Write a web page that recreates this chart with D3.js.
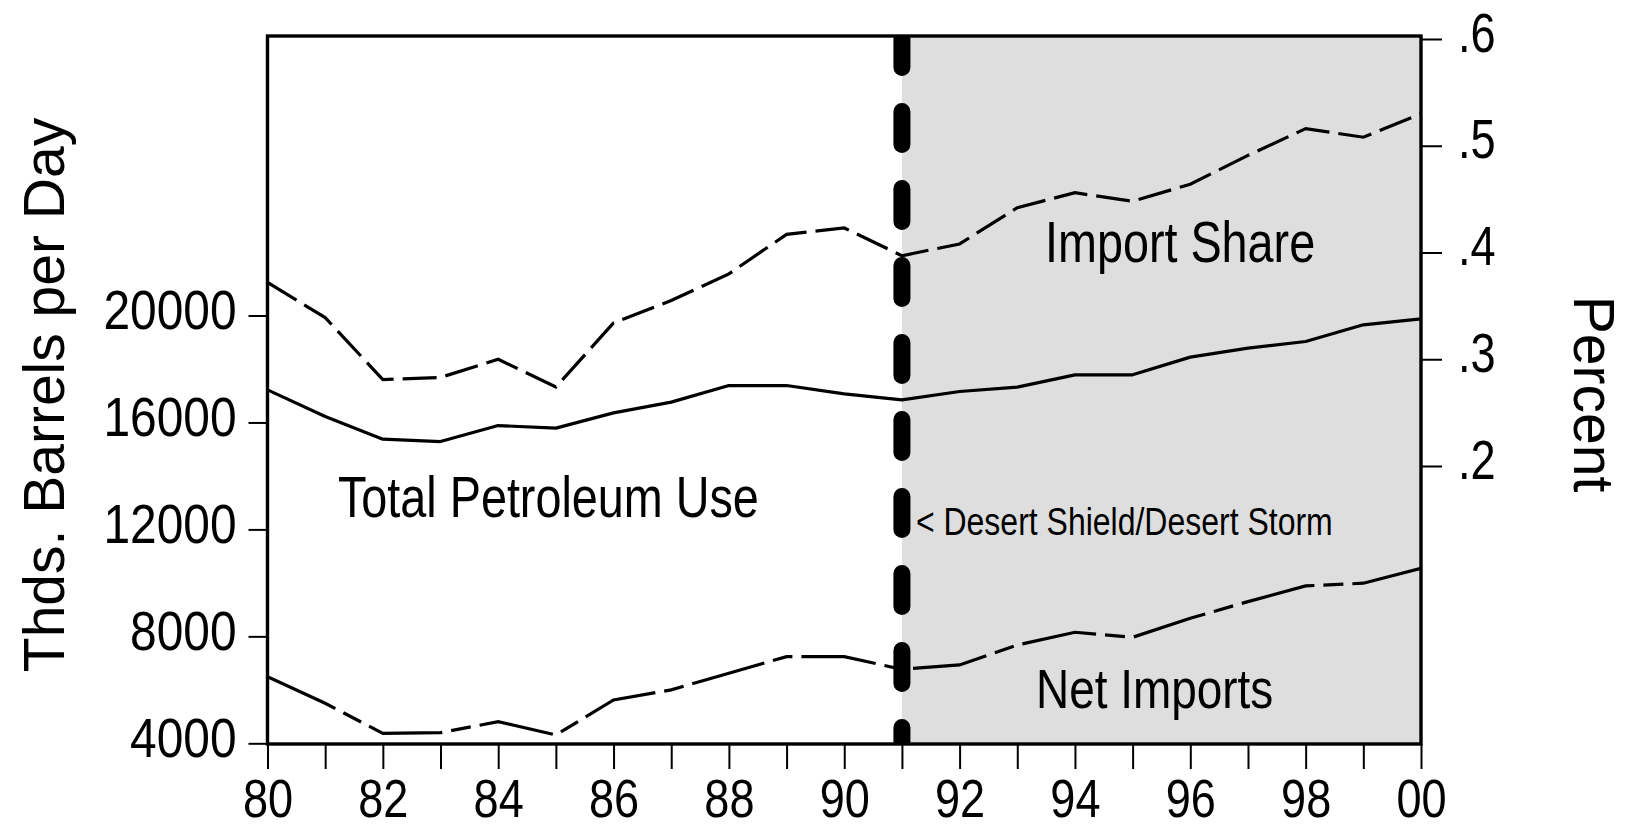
<!DOCTYPE html>
<html>
<head>
<meta charset="utf-8">
<title>Petroleum Use, Net Imports and Import Share</title>
<script src="https://cdn.jsdelivr.net/npm/d3@7/dist/d3.min.js"></script>
<style>
body { margin: 0; background: #fff; }
.narrow { font-family: "Liberation Sans Narrow", "Arial Narrow", "Liberation Sans", sans-serif; }
.title { font-family: "Liberation Sans", Arial, sans-serif; font-size: 57px; fill: #000; }
</style>
</head>
<body>
<div id="chart"></div>
<script>

// years on the x axis
var years = [1980, 1981, 1982, 1983, 1984, 1985, 1986, 1987, 1988, 1989, 1990,
             1991, 1992, 1993, 1994, 1995, 1996, 1997, 1998, 1999, 2000];

// thousands of barrels per day (left axis)
var totalUse   = [17220, 16220, 15375, 15285, 15884, 15787, 16359, 16760, 17381, 17381, 17070,
                  16846, 17157, 17320, 17781, 17781, 18443, 18780, 19027, 19652, 19877];
var netImports = [6492, 5497, 4374, 4397, 4808, 4311, 5620, 6000, 6619, 7241, 7241,
                  6769, 6930, 7678, 8153, 7966, 8677, 9299, 9886, 9987, 10548];

// share of use that is imported (right axis)
var importShare = [0.372, 0.339, 0.281, 0.283, 0.300, 0.274, 0.334, 0.355, 0.380, 0.417, 0.423,
                   0.397, 0.408, 0.442, 0.456, 0.448, 0.464, 0.491, 0.516, 0.508, 0.530];

var leftTicks  = [4000, 8000, 12000, 16000, 20000];
var rightTicks = [0.2, 0.3, 0.4, 0.5, 0.6];
var eventYear  = 1991;   // Desert Shield / Desert Storm

var width = 1629, height = 831;
var plotTop = 36, plotBottom = 744;

var x = d3.scaleLinear().domain([1980, 2000]).range([267.5, 1421]);
var yLeft = d3.scaleLinear().domain([4000, 20000]).range([743.3, 315.5]);
var yRight = d3.scaleLinear().domain([0.2, 0.6]).range([466, 39]);

var svg = d3.select("#chart").append("svg")
    .attr("width", width)
    .attr("height", height);

svg.append("clipPath").attr("id", "plot-clip")
  .append("rect")
    .attr("x", x(1980)).attr("y", plotTop)
    .attr("width", x(2000) - x(1980)).attr("height", plotBottom - plotTop);

// shaded period after the war
svg.append("rect")
    .attr("x", x(eventYear)).attr("y", plotTop)
    .attr("width", x(2000) - x(eventYear)).attr("height", plotBottom - plotTop)
    .attr("fill", "#dedede");

var rows = years.map(function(yr, i) {
  return {year: yr, use: totalUse[i], imp: netImports[i], share: importShare[i]};
});

var plot = svg.append("g").attr("clip-path", "url(#plot-clip)");

plot.append("path")
    .datum(rows)
    .attr("fill", "none").attr("stroke", "#000").attr("stroke-width", 3.2)
    .attr("stroke-linejoin", "round")
    .attr("d", d3.line().x(function(d) { return x(d.year); }).y(function(d) { return yLeft(d.use); }));

plot.append("path")
    .datum(rows)
    .attr("fill", "none").attr("stroke", "#000").attr("stroke-width", 3.2)
    .attr("stroke-dasharray", "75,9,20,9")
    .attr("d", d3.line().x(function(d) { return x(d.year); }).y(function(d) { return yLeft(d.imp); }));

plot.append("path")
    .datum(rows)
    .attr("fill", "none").attr("stroke", "#000").attr("stroke-width", 3.2)
    .attr("stroke-dasharray", "34,9")
    .attr("d", d3.line().x(function(d) { return x(d.year); }).y(function(d) { return yRight(d.share); }));

// thick dashed marker line, drawn upward from the bottom
plot.append("line")
    .attr("x1", x(eventYear)).attr("x2", x(eventYear))
    .attr("y1", plotBottom).attr("y2", plotTop)
    .attr("stroke", "#000").attr("stroke-width", 17)
    .attr("stroke-linecap", "round")
    .attr("stroke-dasharray", "33,44")
    .attr("stroke-dashoffset", 16.5);

// frame
svg.append("rect")
    .attr("x", x(1980)).attr("y", plotTop)
    .attr("width", x(2000) - x(1980)).attr("height", plotBottom - plotTop)
    .attr("fill", "none").attr("stroke", "#000").attr("stroke-width", 3.4);

// axes
var gx = svg.append("g")
    .attr("transform", "translate(0," + plotBottom + ")")
    .call(d3.axisBottom(x).tickValues(years).tickSize(25).tickPadding(10)
      .tickFormat(function(d) { return d % 2 === 0 ? String(d).slice(2) : ""; }));

var gl = svg.append("g")
    .attr("transform", "translate(" + x(1980) + ",0)")
    .call(d3.axisLeft(yLeft).tickValues(leftTicks).tickSize(19).tickPadding(12)
      .tickFormat(d3.format("d")));

var gr = svg.append("g")
    .attr("transform", "translate(" + x(2000) + ",0)")
    .call(d3.axisRight(yRight).tickValues(rightTicks).tickSize(21).tickPadding(16)
      .tickFormat(function(d) { return d3.format(".1f")(d).replace(/^0/, ""); }));

[gx, gl, gr].forEach(function(g) {
  g.select(".domain").remove();
  g.selectAll(".tick line").attr("stroke", "#000").attr("stroke-width", 2);
  g.selectAll(".tick text")
    .attr("class", "narrow")
    .attr("fill", "#000")
    .style("font-size", "55px");
});
gx.selectAll(".tick text").style("font-size", "54px").attr("data-squeeze", 0.835);
gl.selectAll(".tick text").attr("dy", "0.24em").attr("data-squeeze", 0.87);
gr.selectAll(".tick text").attr("dy", "0.22em");

// series labels
function label(txt, px, py, size) {
  svg.append("text")
    .attr("class", "narrow")
    .attr("x", px).attr("y", py)
    .style("font-size", size + "px")
    .attr("fill", "#000")
    .text(txt);
}
label("Total Petroleum Use", 338, 517, 57);
label("Import Share", 1045, 262, 57);
label("Net Imports", 1036, 708, 56);
label("< Desert Shield/Desert Storm", x(eventYear) + 14, 535, 39);

// no narrow face installed: squeeze the regular one to a narrow width
svg.selectAll("text.narrow").each(function() {
  var w = this.getComputedTextLength();
  var k = +(this.getAttribute("data-squeeze") || 0.82);
  if (w > 0) {
    d3.select(this).attr("textLength", w * k).attr("lengthAdjust", "spacingAndGlyphs");
  }
});

// axis titles
svg.append("text")
    .attr("class", "title")
    .attr("text-anchor", "middle")
    .attr("transform", "translate(64,395) rotate(-90)")
    .text("Thds. Barrels per Day");

svg.append("text")
    .attr("class", "title")
    .attr("text-anchor", "middle")
    .attr("transform", "translate(1574,394) rotate(90)")
    .text("Percent");

</script>
</body>
</html>
